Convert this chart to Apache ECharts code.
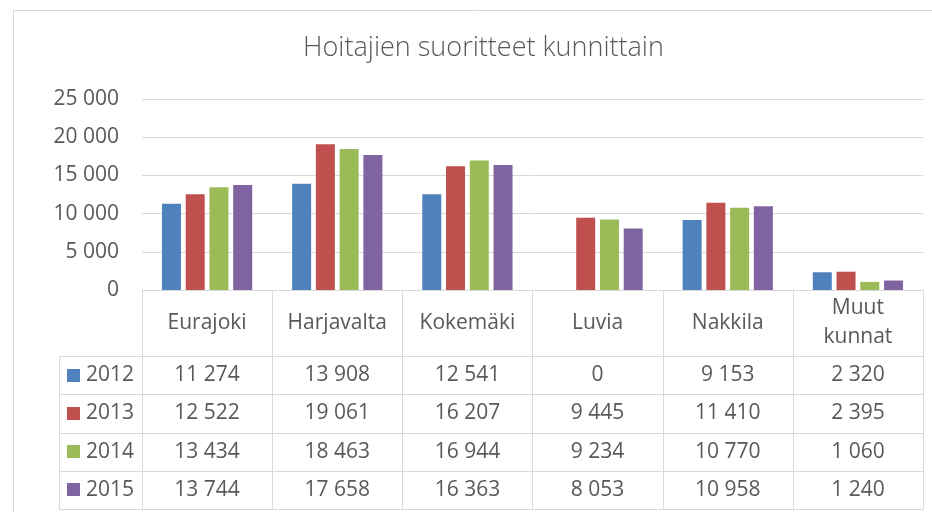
<!DOCTYPE html>
<html><head><meta charset="utf-8">
<script src="https://cdn.jsdelivr.net/npm/echarts@6/dist/echarts.min.js"></script>
<style>html,body{margin:0;padding:0;background:#fff}#c{width:932px;height:512px}</style>
</head><body><div id="c"></div>
<script>
const titleText = 'Hoitajien suoritteet kunnittain';
const categories = ['Eurajoki', 'Harjavalta', 'Kokemäki', 'Luvia', 'Nakkila', 'Muut\nkunnat'];
const years = ['2012', '2013', '2014', '2015'];
const v2012 = [11274, 13908, 12541, 0, 9153, 2320];
const v2013 = [12522, 19061, 16207, 9445, 11410, 2395];
const v2014 = [13434, 18463, 16944, 9234, 10770, 1060];
const v2015 = [13744, 17658, 16363, 8053, 10958, 1240];
const yTicks = [0, 5000, 10000, 15000, 20000, 25000];

const seriesValues = [v2012, v2013, v2014, v2015];
const colors = ['#4F81BD', '#C0504D', '#9BBB59', '#8064A2'];
const fmt = v => String(v).replace(/\B(?=(\d{3})+(?!\d))/g, ' ');
const FONT = '"Open Sans", sans-serif';
const TXT = '#595959';
const LINE = '#D9D9D9';
const FS = 21;

const chart = echarts.init(document.getElementById('c'), null, {renderer: 'canvas'});
chart.setOption({
  animation: false,
  grid: {left: 142, right: 9, top: 99, bottom: 222},
  xAxis: {
    type: 'category', data: categories,
    axisLine: {show: true, lineStyle: {color: LINE, width: 1}},
    axisTick: {show: false},
    axisLabel: {interval: 0, margin: 33, verticalAlign: 'middle', lineHeight: 29,
      fontSize: FS, fontFamily: FONT, color: TXT}
  },
  yAxis: {
    type: 'value', min: yTicks[0], max: yTicks[yTicks.length - 1], interval: yTicks[1] - yTicks[0],
    axisLine: {show: false}, axisTick: {show: false},
    axisLabel: {margin: 23, fontSize: FS, fontFamily: FONT, color: TXT, formatter: v => fmt(v)},
    splitLine: {lineStyle: {color: LINE, width: 1}}
  },
  series: seriesValues.map((vals, i) => ({
    name: years[i], type: 'bar', data: vals, barWidth: 19, barGap: '25%',
    itemStyle: {color: colors[i]}
  }))
});

// Data table below the axis, positioned from the axis scale
const centers = categories.map((c, i) => chart.convertToPixel({xAxisIndex: 0}, i));
const half = (centers[1] - centers[0]) / 2;
const bounds = centers.map(c => c - half).concat([centers[centers.length - 1] + half]);
const y0 = chart.convertToPixel({yAxisIndex: 0}, 0);
const headerH = 66, rowH = 38.25, legendLeft = 59;
const rowTop = k => y0 + headerH + k * rowH;
const bottom = rowTop(years.length);
const px = v => Math.round(v) + 0.5;
const els = [];
els.push({type: 'rect', z: -1, shape: {x: 13.5, y: 10.5, width: 940, height: 520},
  style: {fill: 'none', stroke: LINE, lineWidth: 1}});
els.push({type: 'text', style: {text: titleText, x: 483.5, y: 48, align: 'center', verticalAlign: 'middle',
  fontSize: 27, fontFamily: FONT, fontWeight: 300, fill: TXT}});
for (let k = 0; k <= years.length; k++) {
  els.push({type: 'line', shape: {x1: legendLeft, y1: px(rowTop(k)), x2: bounds[bounds.length - 1], y2: px(rowTop(k))},
    style: {stroke: LINE, lineWidth: 1}});
}
els.push({type: 'line', shape: {x1: px(legendLeft), y1: rowTop(0), x2: px(legendLeft), y2: bottom},
  style: {stroke: LINE, lineWidth: 1}});
bounds.forEach(b => els.push({type: 'line', shape: {x1: px(b), y1: y0, x2: px(b), y2: bottom},
  style: {stroke: LINE, lineWidth: 1}}));
years.forEach((yr, k) => {
  const cy = rowTop(k) + rowH / 2;
  els.push({type: 'rect', shape: {x: 67, y: Math.round(cy - 6.5), width: 13, height: 13}, style: {fill: colors[k]}});
  els.push({type: 'text', style: {text: yr, x: 86, y: cy, align: 'left', verticalAlign: 'middle',
    fontSize: FS, fontFamily: FONT, fill: TXT}});
  seriesValues[k].forEach((v, i) => {
    els.push({type: 'text', style: {text: fmt(v), x: centers[i], y: cy, align: 'center', verticalAlign: 'middle',
      fontSize: FS, fontFamily: FONT, fill: TXT}});
  });
});
chart.setOption({graphic: {elements: els}});
</script>
</body></html>
